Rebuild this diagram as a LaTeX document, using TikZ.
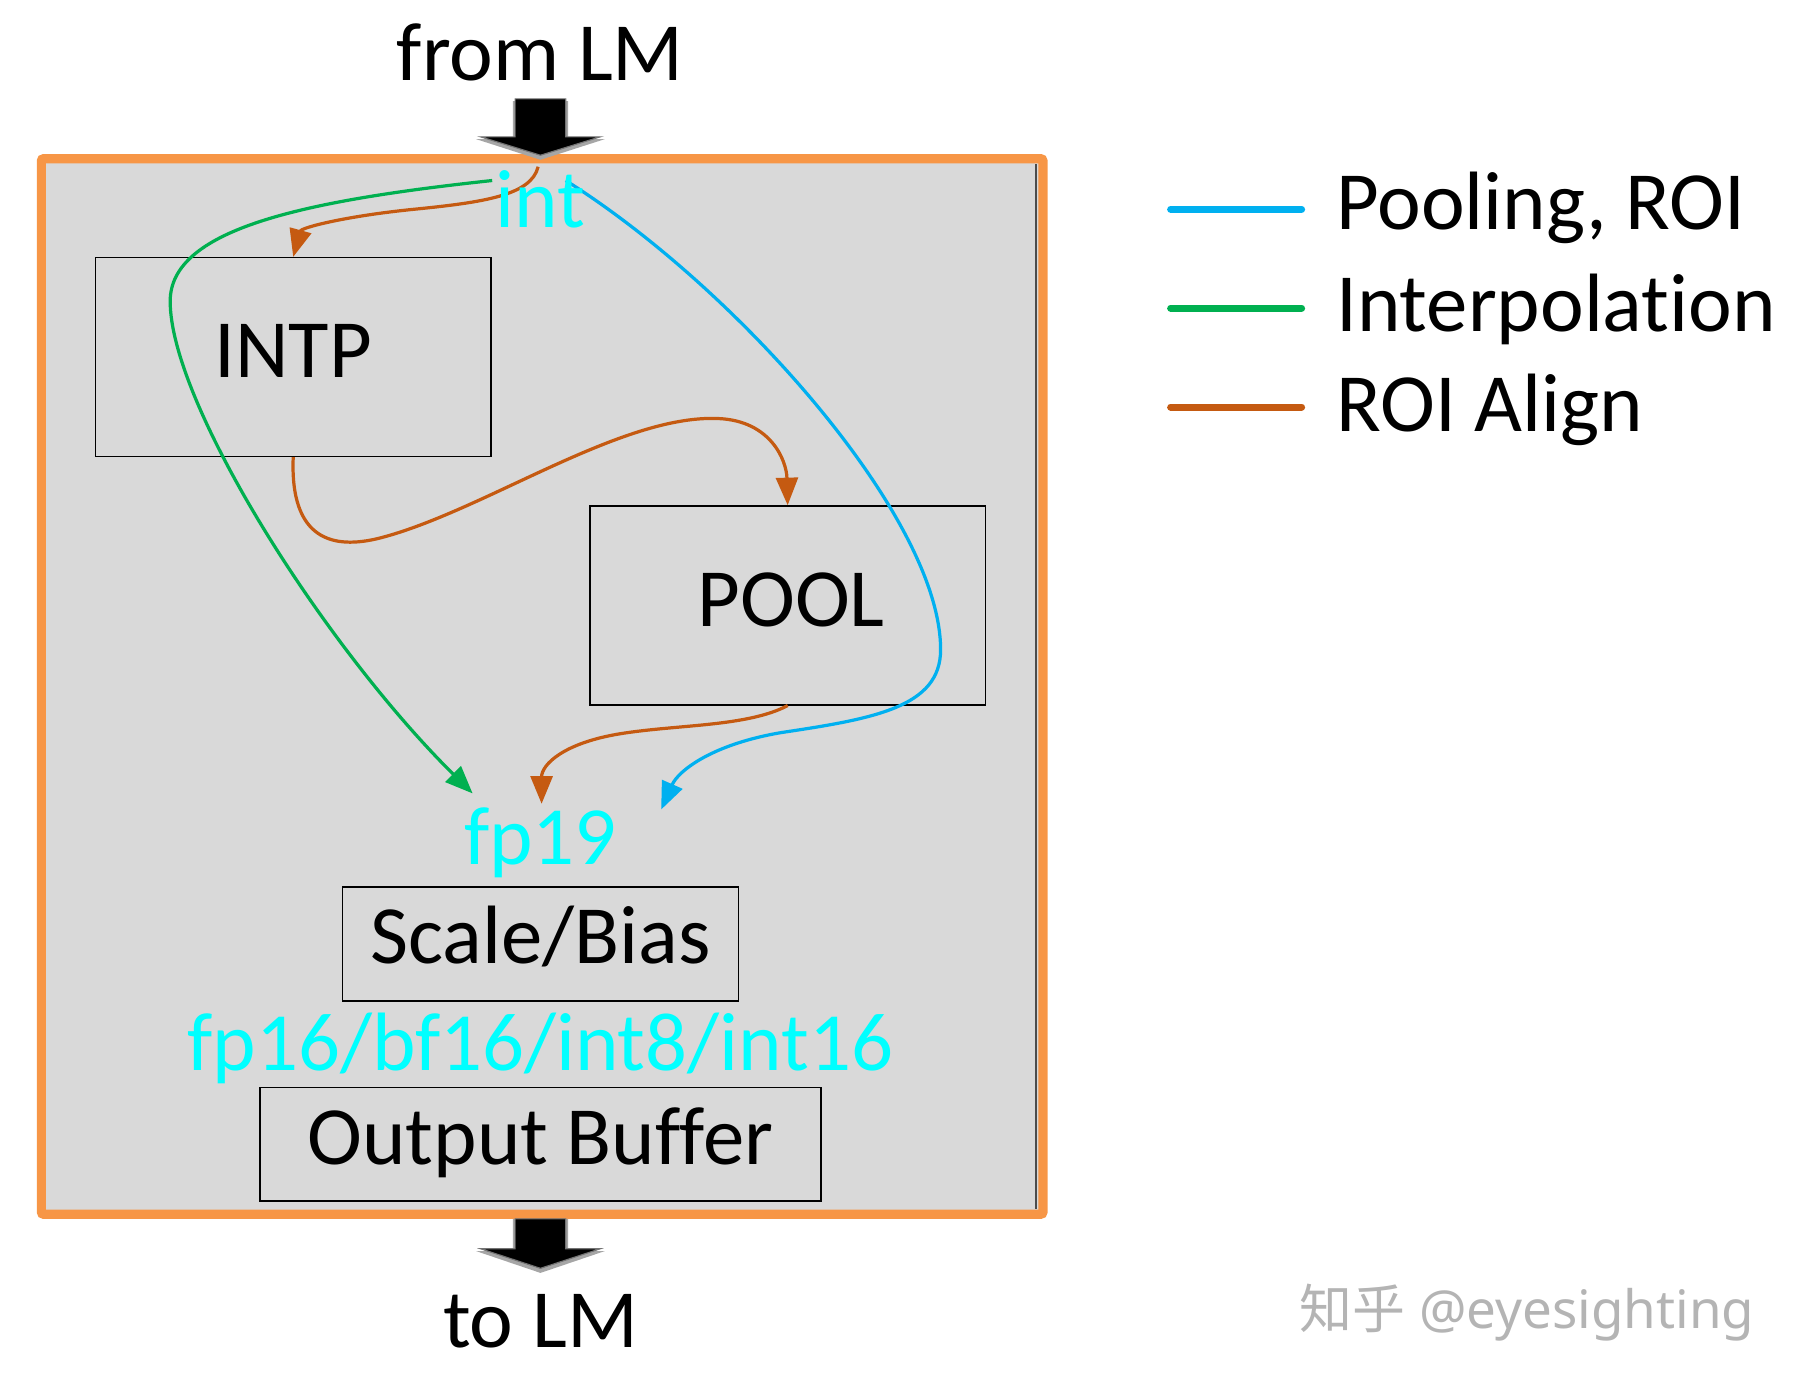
\documentclass[tikz,border=0pt]{standalone}
\usepackage{fontspec}
\setmainfont{Carlito}[RawFeature={-liga;-clig;-calt;-dlig}]
\newfontfamily\cjkfont{Noto Sans CJK SC}
\newfontfamily\wmfont{Noto Sans}
\usetikzlibrary{arrows.meta}
\definecolor{frameorange}{HTML}{F79646}
\definecolor{panelgray}{HTML}{D9D9D9}
\definecolor{linegreen}{HTML}{00B050}
\definecolor{lineblue}{HTML}{00B0F0}
\definecolor{lineorange}{HTML}{C55A11}
\definecolor{typecyan}{HTML}{00FFFF}
\definecolor{wmgray}{HTML}{B4B4B4}
\begin{document}
\begin{tikzpicture}[x=1pt,y=-1pt,
  bigtext/.style={font=\fontsize{72}{80}\selectfont, inner sep=0pt, anchor=base},
  typetext/.style={bigtext, text=typecyan},
  blockbox/.style={draw=black, line width=1.2pt, fill=none, inner sep=0pt},
  flow/.style={line width=2.8pt, -{Triangle[length=24pt,width=19pt]}},
  legline/.style={line width=6pt, line cap=round},
  bigarrow/.style={fill=black, draw=black!55, line width=1pt}
]
\useasboundingbox (0,0) rectangle (1568,1207);

% panel
\fill[panelgray] (36,138) rectangle (907,1056);
\draw[black!70, line width=1pt] (901,143) -- (901,1051);

% blocks
\node[blockbox, minimum width=344pt, minimum height=173pt] (intp) at (255,310.5) {};
\node[bigtext] (intplabel) at (255,328) {INTP};
\node[blockbox, minimum width=344pt, minimum height=173pt] (pool) at (685,526.5) {};
\node[bigtext] (poollabel) at (688,545) {POOL};
\node[blockbox, minimum width=344pt, minimum height=99pt] (scale) at (470,821) {};
\node[bigtext] (scalelabel) at (470,838) {Scale/Bias};
\node[blockbox, minimum width=488pt, minimum height=99pt] (outbuf) at (470,995) {};
\node[bigtext] (outlabel) at (470,1013) {Output Buffer};

% connector end points
\coordinate (gstart) at (428,157);
\coordinate (gend) at (411,690);
\coordinate (ostart) at (468,145);
\coordinate (oend) at (471,699);
\coordinate (bstart) at (492,157);
\coordinate (bend) at (575,704);

% green: interpolation
\draw[flow, linegreen] (gstart) .. controls (260,175) and (148,200) .. (148,262)
   .. controls (148,350) and (280,560) .. (gend);
% blue: pooling
\draw[flow, lineblue] (bstart) .. controls (640,250) and (818,450) .. (818,565)
   .. controls (818,615) and (760,625) .. (680,637)
   .. controls (620,647) and (590,670) .. (bend);
% orange: ROI align
\draw[flow, lineorange] (ostart) .. controls (462,170) and (420,176) .. (360,182)
   .. controls (300,188) and (262,198) .. (intp.north);
\draw[flow, lineorange] (intp.south) .. controls (252,470) and (290,478) .. (330,468)
   .. controls (420,445) and (540,360) .. (625,364)
   .. controls (670,366) and (684,400) .. (pool.north);
\draw[flow, lineorange] (pool.south) .. controls (650,632) and (590,630) .. (540,638)
   .. controls (490,646) and (471,665) .. (oend);

% frame
\draw[frameorange, line width=8pt, rounded corners=2pt] (36,138) rectangle (907,1056);

% in/out arrows
\node[bigtext] (fromlm) at (470,70) {from LM};
\fill[black!35] (446,88) -- (494,88) -- (494,121) -- (526,121) -- (470,139) -- (414,121) -- (446,121) -- cycle;
\draw[bigarrow] (448,86) -- (492,86) -- (492,119) -- (522,119) -- (470,135) -- (418,119) -- (448,119) -- cycle;
\fill[black!35] (446,1060) -- (494,1060) -- (494,1088) -- (526,1088) -- (470,1107) -- (414,1088) -- (446,1088) -- cycle;
\draw[bigarrow] (448,1060) -- (492,1060) -- (492,1086) -- (522,1086) -- (470,1103) -- (418,1086) -- (448,1086) -- cycle;
\node[bigtext] (tolm) at (470,1172) {to LM};

% data type labels
\node[typetext] (inttype) at (470,198) {int};
\node[typetext] (fp19type) at (470,752) {fp19};
\node[typetext] (outtype) at (470,931) {fp16/bf16/int8/int16};

% legend
\coordinate (l1a) at (1018,182); \coordinate (l1b) at (1132,182);
\coordinate (l2a) at (1018,268); \coordinate (l2b) at (1132,268);
\coordinate (l3a) at (1018,354); \coordinate (l3b) at (1132,354);
\draw[legline, lineblue] (l1a) -- (l1b);
\draw[legline, linegreen] (l2a) -- (l2b);
\draw[legline, lineorange] (l3a) -- (l3b);
\node[bigtext, anchor=base west] (leg1) at (1162,200) {Pooling, ROI};
\node[bigtext, anchor=base west] (leg2) at (1162,288) {Interpolation};
\node[bigtext, anchor=base west] (leg3) at (1162,375) {ROI Align};

% watermark
\node[anchor=base west, inner sep=0pt, text=wmgray, font=\wmfont\fontsize{46}{50}\selectfont] (wm) at (1130,1155) {{\cjkfont 知乎} @eyesighting};
\end{tikzpicture}
\end{document}
